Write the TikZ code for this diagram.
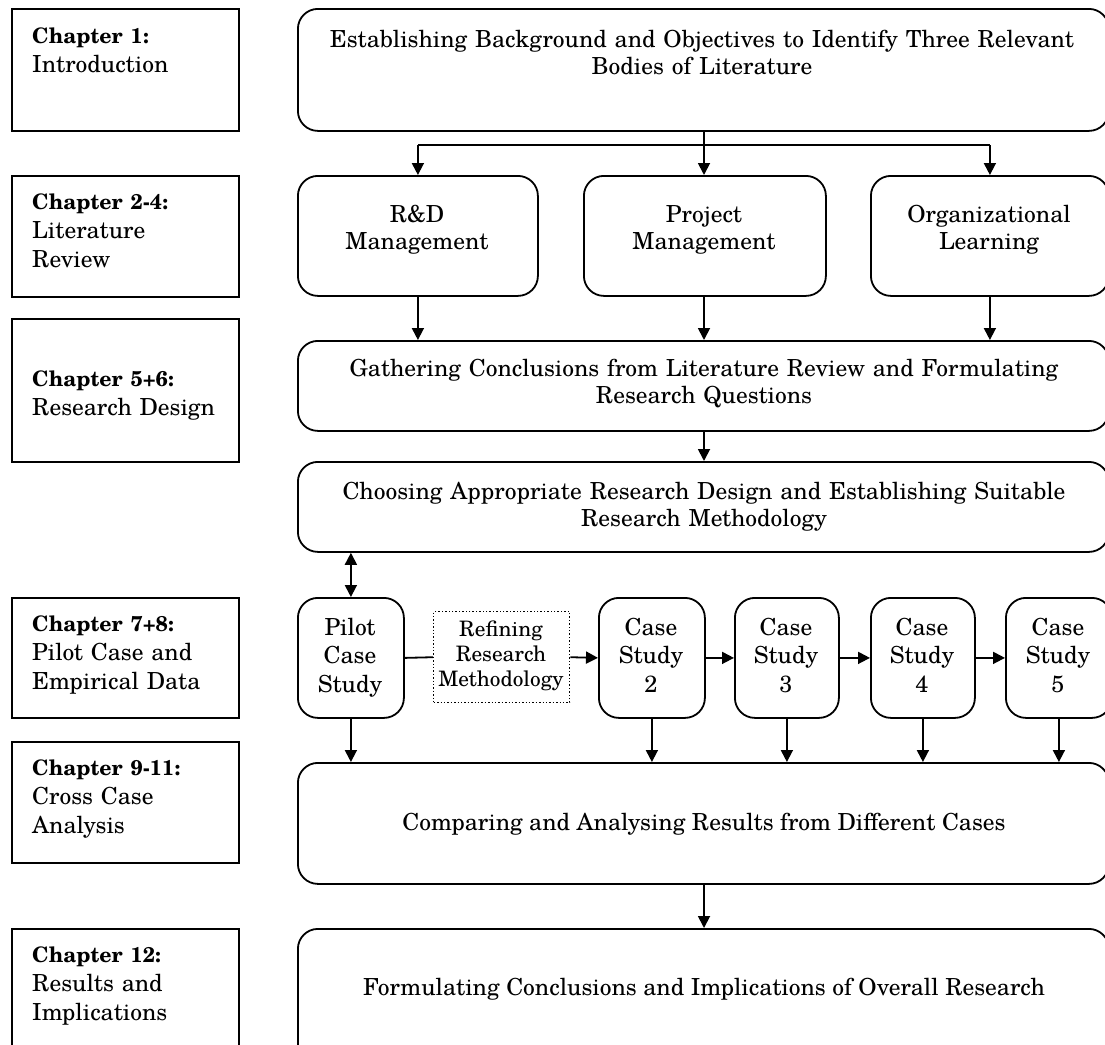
\documentclass[tikz,border=0pt]{standalone}
\usepackage{fontspec}
\setmainfont{TeX Gyre Schola}
\usetikzlibrary{arrows.meta}
\begin{document}
\begin{tikzpicture}[x=1pt,y=-1pt,
  lw/.style={line width=1.8pt},
  chapbox/.style={draw,lw,rectangle,anchor=north west,inner sep=0pt,minimum width=227pt},
  rbox/.style={draw,lw,rounded corners=20pt,anchor=north west,inner sep=0pt},
  dotbox/.style={draw,line width=1.4pt,dotted,anchor=north west,inner sep=0pt},
  txt/.style={inner sep=0pt,anchor=base,align=center,font=\fontsize{23.5}{27}\selectfont},
  casetxt/.style={txt,font=\fontsize{23.5}{28.5}\selectfont},
  smalltxt/.style={inner sep=0pt,anchor=base,align=center,font=\fontsize{21.3}{25}\selectfont},
  chaptxt/.style={inner sep=0pt,anchor=base west,align=left,text width=215pt,font=\fontsize{23.5}{29}\selectfont},
  arr/.style={lw,-{Triangle[length=12pt,width=12pt]}},
  dblarr/.style={lw,{Triangle[length=12pt,width=12pt]}-{Triangle[length=12pt,width=12pt]}},
  link/.style={lw}]
\newcommand\chaphead[1]{{\fontsize{21.3}{29}\selectfont\bfseries #1}}
\useasboundingbox (0,0) rectangle (1105,1044);
\clip (0,0) rectangle (1105,1044);
\fill[white] (0,0) rectangle (1105,1044);

% chapter column
\node[chapbox,minimum height=122pt] (c1) at (11,8) {};
\node[chapbox,minimum height=121pt] (c2) at (11,175) {};
\node[chapbox,minimum height=143pt] (c3) at (11,318) {};
\node[chapbox,minimum height=120pt] (c4) at (11,597) {};
\node[chapbox,minimum height=121pt] (c5) at (11,741) {};
\node[chapbox,minimum height=140pt] (c6) at (11,928) {};

\node[chaptxt] (c1t) at (32,43) {\chaphead{Chapter 1:}\\Introduction};
\node[chaptxt] (c2t) at (32,209) {\chaphead{Chapter 2-4:}\\Literature\\Review};
\node[chaptxt] (c3t) at (32,386) {\chaphead{Chapter 5+6:}\\Research Design};
\node[chaptxt] (c4t) at (32,631) {\chaphead{Chapter 7+8:}\\Pilot Case and\\Empirical Data};
\node[chaptxt] (c5t) at (32,775) {\chaphead{Chapter 9-11:}\\Cross Case\\Analysis};
\node[chaptxt] (c6t) at (32,962) {\chaphead{Chapter 12:}\\Results and\\Implications};

% process column
\node[rbox,minimum width=811pt,minimum height=122pt] (top) at (297,8) {};
\node[rbox,minimum width=240pt,minimum height=120pt] (rd) at (297,175) {};
\node[rbox,minimum width=242pt,minimum height=120pt] (pm) at (583,175) {};
\node[rbox,minimum width=238pt,minimum height=120pt] (ol) at (870,175) {};
\node[rbox,minimum width=811pt,minimum height=90pt] (gath) at (297,340) {};
\node[rbox,minimum width=811pt,minimum height=90pt] (choose) at (297,461) {};
\node[rbox,minimum width=106pt,minimum height=120pt] (pilot) at (297,597) {};
\node[dotbox,minimum width=136pt,minimum height=91pt] (refine) at (433,611) {};
\node[rbox,minimum width=106pt,minimum height=120pt] (cs2) at (598,597) {};
\node[rbox,minimum width=104pt,minimum height=120pt] (cs3) at (734,597) {};
\node[rbox,minimum width=104pt,minimum height=120pt] (cs4) at (870,597) {};
\node[rbox,minimum width=106pt,minimum height=120pt] (cs5) at (1005,597) {};
\node[rbox,minimum width=811pt,minimum height=121pt] (comp) at (297,762) {};
\node[rbox,minimum width=811pt,minimum height=140pt] (final) at (297,928) {};

% box texts
\node[txt,text width=800pt] (topt) at (702,47) {Establishing Background and Objectives to Identify Three Relevant\\Bodies of Literature};
\node[txt,text width=230pt] (rdt) at (417,222) {R\&D\\Management};
\node[txt,text width=230pt] (pmt) at (704,222) {Project\\Management};
\node[txt,text width=230pt] (olt) at (989,222) {Organizational\\Learning};
\node[txt,text width=800pt] (gatht) at (704,376) {Gathering Conclusions from Literature Review and Formulating\\Research Questions};
\node[txt,text width=800pt] (chooset) at (704,499) {Choosing Appropriate Research Design and Establishing Suitable\\Research Methodology};
\node[casetxt,text width=100pt] (pilott) at (350,635) {Pilot\\Case\\Study};
\node[smalltxt,text width=134pt] (refinet) at (501,636) {Refining\\Research\\Methodology};
\node[casetxt,text width=100pt] (cs2t) at (651,635) {Case\\Study\\2};
\node[casetxt,text width=100pt] (cs3t) at (786,635) {Case\\Study\\3};
\node[casetxt,text width=100pt] (cs4t) at (922,635) {Case\\Study\\4};
\node[casetxt,text width=100pt] (cs5t) at (1058,635) {Case\\Study\\5};
\node[txt] (compt) at (704,830) {Comparing and Analysing Results from Different Cases};
\node[txt] (finalt) at (704,995) {Formulating Conclusions and Implications of Overall Research};

% connectors
\coordinate (split) at (704,145);
\draw[link] (top.south -| split) -- (split);
\draw[link] (split -| rd.north) -- (split -| ol.north);
\draw[arr] (split -| rd.north) -- (rd.north);
\draw[arr] (split) -- (split |- pm.north);
\draw[arr] (split -| ol.north) -- (ol.north);

\draw[arr] (rd.south) -- (rd.south |- gath.north);
\draw[arr] (split |- pm.south) -- (split |- gath.north);
\draw[arr] (ol.south) -- (ol.south |- gath.north);
\draw[arr] (split |- gath.south) -- (split |- choose.north);
\draw[dblarr] (pilot.north |- choose.south) -- (pilot.north);

\draw[link] (pilot.east) -- (refine.west);
\draw[arr] (refine.east) -- (cs2.west);
\draw[arr] (cs2.east) -- (cs3.west);
\draw[arr] (cs3.east) -- (cs4.west);
\draw[arr] (cs4.east) -- (cs5.west);

\foreach \b in {pilot,cs2,cs3,cs4,cs5}
  \draw[arr] (\b.south) -- (\b.south |- comp.north);
\draw[arr] (split |- comp.south) -- (split |- final.north);
\end{tikzpicture}
\end{document}
